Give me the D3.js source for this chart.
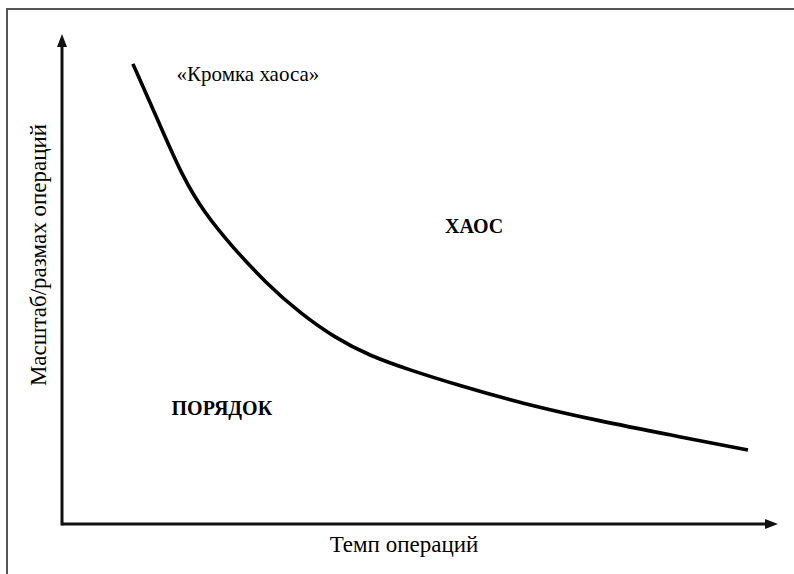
<!DOCTYPE html>
<html><head><meta charset="utf-8">
<script src="https://cdn.jsdelivr.net/npm/d3@7"></script>
</head><body style="margin:0;background:#fff">
<script>
const curveX = [9.9, 13.4, 16.9, 20.0, 23.7, 28.6, 33.2, 38.1, 43.0, 48.6, 55.6, 64.0, 75.1, 84.9, 95.8];
const curveY = [93.9, 82.4, 70.6, 63.3, 56.7, 49.0, 43.1, 38.0, 34.3, 31.4, 28.2, 24.7, 21.0, 18.2, 15.1];
const xTitle = "Темп операций";
const yTitle = "Масштаб/размах операций";
const labelTexts = ["«Кромка хаоса»", "ХАОС", "ПОРЯДОК"];
const labelX = [16, 53.5, 15.3];
const labelY = [90.5, 59.4, 22.3];
const labelBold = [false, true, true];

const W = 794, H = 574;
const FONT = "Liberation Serif";
const svg = d3.select("body").append("svg").attr("width", W).attr("height", H)
  .style("display", "block").style("font-family", FONT);
const xs = d3.scaleLinear().domain([0, 100]).range([62, 778]);
const ys = d3.scaleLinear().domain([0, 100]).range([524, 34]);

// frame (top and left edges)
svg.append("path").attr("d", `M7,${H} L7,9 L${W},9`).attr("fill", "none")
  .attr("stroke", "#555").attr("stroke-width", 2);

// axes
svg.append("line").attr("x1", xs(0)).attr("y1", ys(0)).attr("x2", xs(100) - 10).attr("y2", ys(0))
  .attr("stroke", "#111").attr("stroke-width", 3);
svg.append("line").attr("x1", xs(0)).attr("y1", ys(0) + 1.5).attr("x2", xs(0)).attr("y2", ys(100) + 10)
  .attr("stroke", "#111").attr("stroke-width", 3);
svg.append("path").attr("d", `M${xs(100)},${ys(0)} l-13,-5 l0,10 z`).attr("fill", "#111");
svg.append("path").attr("d", `M${xs(0)},${ys(100)} l-5,13 l10,0 z`).attr("fill", "#111");

// curve
const pts = curveX.map((v, i) => [v, curveY[i]]);
svg.append("path").datum(pts)
  .attr("d", d3.line().x(d => xs(d[0])).y(d => ys(d[1])).curve(d3.curveBasis))
  .attr("fill", "none").attr("stroke", "#000").attr("stroke-width", 3.6);

// labels
labelTexts.forEach((t, i) => {
  svg.append("text").attr("x", xs(labelX[i])).attr("y", ys(labelY[i])).text(t)
    .attr("font-family", FONT).style("font-family", FONT)
    .style("font-size", labelBold[i] ? "20px" : "21px")
    .style("font-weight", labelBold[i] ? "bold" : "normal").attr("fill", "#000");
});

svg.append("text").attr("x", 404).attr("y", 552).attr("text-anchor", "middle")
  .attr("font-family", FONT).style("font-family", FONT).style("font-size", "23px").text(xTitle);
svg.append("text").attr("transform", "translate(46,255) rotate(-90)").attr("text-anchor", "middle")
  .attr("font-family", FONT).style("font-family", FONT).style("font-size", "23px").text(yTitle);
</script>
</body></html>
